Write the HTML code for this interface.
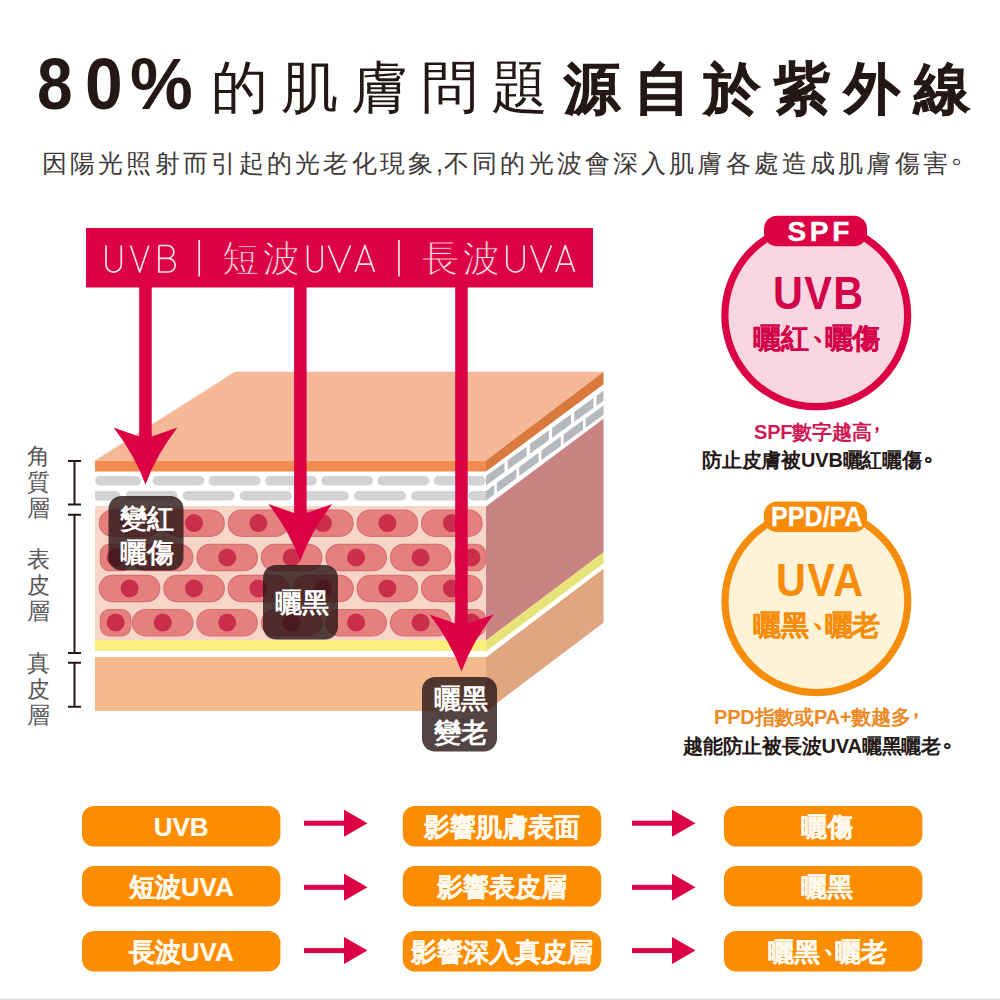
<!DOCTYPE html>
<html lang="zh-Hant"><head><meta charset="utf-8"><title>80%的肌膚問題源自於紫外線</title>
<style>
html,body{margin:0;padding:0;background:#fff}
body{width:1000px;height:1000px;position:relative;overflow:hidden;font-family:"Liberation Sans",sans-serif}
svg{position:absolute;left:0;top:0}
.t{position:absolute;white-space:nowrap;line-height:1}
.n{margin-right:-0.43em;position:relative;top:-0.345em;left:0.127em}
.d{position:relative;top:-0.466em;left:0.144em;display:inline-block;transform:scale(1.25)}
.c{position:relative;top:-0.42em;left:-0.25em}
.p{position:absolute;width:198.4px;height:40.5px;line-height:42px;text-align:center;color:#fffaf0;-webkit-text-stroke:0.2px #fffaf0;font-weight:700;font-size:26px;white-space:nowrap}
</style></head><body>
<svg width="1000" height="1000" viewBox="0 0 1000 1000">
<polygon points="95,460.5 235,371.7 603.5,371.7 486,460.5" fill="#f5b998"/>
<polygon points="486.0,460.5 603.5,371.7 603.5,622.7 486.0,711.5" fill="#fff"/>
<polygon points="486.0,460.5 603.5,371.7 603.5,384.2 486.0,471.5" fill="#d9793d"/>
<polygon points="486.0,476.0 504.5,462.6 504.5,472.1 486.0,485.5" fill="#b5b9be"/>
<polygon points="507.7,460.2 526.7,446.5 526.7,456.1 507.7,469.8" fill="#b5b9be"/>
<polygon points="529.9,444.1 548.9,430.3 548.9,440.1 529.9,453.8" fill="#b5b9be"/>
<polygon points="552.1,428.0 571.1,414.2 571.1,424.1 552.1,437.8" fill="#b5b9be"/>
<polygon points="574.3,411.9 593.3,398.1 593.3,408.1 574.3,421.8" fill="#b5b9be"/>
<polygon points="596.5,395.8 603.5,390.7 603.5,400.7 596.5,405.8" fill="#b5b9be"/>
<polygon points="486.0,491.0 494.2,485.0 494.2,494.5 486.0,500.5" fill="#b5b9be"/>
<polygon points="496.9,483.1 516.4,468.9 516.4,478.3 496.9,492.5" fill="#b5b9be"/>
<polygon points="519.1,466.9 538.6,452.7 538.6,462.1 519.1,476.3" fill="#b5b9be"/>
<polygon points="541.3,450.7 560.8,436.5 560.8,445.9 541.3,460.1" fill="#b5b9be"/>
<polygon points="563.5,434.5 583.0,420.3 583.0,429.7 563.5,443.9" fill="#b5b9be"/>
<polygon points="585.7,418.4 603.5,405.4 603.5,414.7 585.7,427.7" fill="#b5b9be"/>
<polygon points="486.0,506.5 603.5,418.7 603.5,552.2 486.0,640.5" fill="#c98282"/>
<polygon points="486.0,640.5 603.5,552.2 603.5,563.2 486.0,651.5" fill="#e7e47a"/>
<polygon points="486.0,657.5 603.5,568.7 603.5,622.7 486.0,711.5" fill="#dfa67f"/>
<rect x="95" y="460.5" width="391" height="250.5" fill="#fff"/>
<rect x="95" y="460.5" width="391" height="11" fill="#f08c50"/>
<clipPath id="ff"><rect x="95" y="460" width="391" height="252"/></clipPath>
<g clip-path="url(#ff)">
<rect x="95" y="476" width="46" height="9.5" rx="4.75" fill="#d2d3d5"/>
<rect x="152.4" y="476" width="52" height="9.5" rx="4.75" fill="#d2d3d5"/>
<rect x="208.6" y="476" width="52" height="9.5" rx="4.75" fill="#d2d3d5"/>
<rect x="264.9" y="476" width="52" height="9.5" rx="4.75" fill="#d2d3d5"/>
<rect x="321.1" y="476" width="52" height="9.5" rx="4.75" fill="#d2d3d5"/>
<rect x="377.4" y="476" width="52" height="9.5" rx="4.75" fill="#d2d3d5"/>
<rect x="433.6" y="476" width="52" height="9.5" rx="4.75" fill="#d2d3d5"/>
<rect x="68.5" y="491" width="52" height="9.5" rx="4.75" fill="#d2d3d5"/>
<rect x="125.6" y="491" width="52" height="9.5" rx="4.75" fill="#d2d3d5"/>
<rect x="182.7" y="491" width="52" height="9.5" rx="4.75" fill="#d2d3d5"/>
<rect x="239.8" y="491" width="52" height="9.5" rx="4.75" fill="#d2d3d5"/>
<rect x="296.9" y="491" width="52" height="9.5" rx="4.75" fill="#d2d3d5"/>
<rect x="354.0" y="491" width="52" height="9.5" rx="4.75" fill="#d2d3d5"/>
<rect x="411.1" y="491" width="52" height="9.5" rx="4.75" fill="#d2d3d5"/>
<rect x="468.2" y="491" width="52" height="9.5" rx="4.75" fill="#d2d3d5"/>
<rect x="95" y="506" width="391" height="134" fill="#f7d6c8"/>
<rect x="99.3" y="510.0" width="60.5" height="26.3" rx="13.15" fill="#e6807f" stroke="#d86f72" stroke-width="1.2"/>
<circle cx="129.6" cy="523.1" r="9" fill="#c92f4b"/>
<rect x="163.8" y="510.0" width="60.5" height="26.3" rx="13.15" fill="#e6807f" stroke="#d86f72" stroke-width="1.2"/>
<circle cx="194.0" cy="523.1" r="9" fill="#c92f4b"/>
<rect x="228.2" y="510.0" width="60.5" height="26.3" rx="13.15" fill="#e6807f" stroke="#d86f72" stroke-width="1.2"/>
<circle cx="258.4" cy="523.1" r="9" fill="#c92f4b"/>
<rect x="292.7" y="510.0" width="60.5" height="26.3" rx="13.15" fill="#e6807f" stroke="#d86f72" stroke-width="1.2"/>
<circle cx="322.9" cy="523.1" r="9" fill="#c92f4b"/>
<rect x="357.1" y="510.0" width="60.5" height="26.3" rx="13.15" fill="#e6807f" stroke="#d86f72" stroke-width="1.2"/>
<circle cx="387.4" cy="523.1" r="9" fill="#c92f4b"/>
<rect x="421.6" y="510.0" width="60.5" height="26.3" rx="13.15" fill="#e6807f" stroke="#d86f72" stroke-width="1.2"/>
<circle cx="451.8" cy="523.1" r="9" fill="#c92f4b"/>
<rect x="99.3" y="575.3" width="60.5" height="26.3" rx="13.15" fill="#e6807f" stroke="#d86f72" stroke-width="1.2"/>
<circle cx="129.6" cy="588.4" r="9" fill="#c92f4b"/>
<rect x="163.8" y="575.3" width="60.5" height="26.3" rx="13.15" fill="#e6807f" stroke="#d86f72" stroke-width="1.2"/>
<circle cx="194.0" cy="588.4" r="9" fill="#c92f4b"/>
<rect x="228.2" y="575.3" width="60.5" height="26.3" rx="13.15" fill="#e6807f" stroke="#d86f72" stroke-width="1.2"/>
<circle cx="258.4" cy="588.4" r="9" fill="#c92f4b"/>
<rect x="292.7" y="575.3" width="60.5" height="26.3" rx="13.15" fill="#e6807f" stroke="#d86f72" stroke-width="1.2"/>
<circle cx="322.9" cy="588.4" r="9" fill="#c92f4b"/>
<rect x="357.1" y="575.3" width="60.5" height="26.3" rx="13.15" fill="#e6807f" stroke="#d86f72" stroke-width="1.2"/>
<circle cx="387.4" cy="588.4" r="9" fill="#c92f4b"/>
<rect x="421.6" y="575.3" width="60.5" height="26.3" rx="13.15" fill="#e6807f" stroke="#d86f72" stroke-width="1.2"/>
<circle cx="451.8" cy="588.4" r="9" fill="#c92f4b"/>
<rect x="100.4" y="544.4" width="30.4" height="26.3" rx="9" fill="#e6807f" stroke="#d86f72" stroke-width="1.2"/>
<circle cx="115.6" cy="557.5" r="9" fill="#c92f4b"/>
<rect x="132.4" y="544.4" width="60.5" height="26.3" rx="13.15" fill="#e6807f" stroke="#d86f72" stroke-width="1.2"/>
<circle cx="162.7" cy="557.5" r="9" fill="#c92f4b"/>
<rect x="196.9" y="544.4" width="60.5" height="26.3" rx="13.15" fill="#e6807f" stroke="#d86f72" stroke-width="1.2"/>
<circle cx="227.2" cy="557.5" r="9" fill="#c92f4b"/>
<rect x="261.4" y="544.4" width="60.5" height="26.3" rx="13.15" fill="#e6807f" stroke="#d86f72" stroke-width="1.2"/>
<circle cx="291.6" cy="557.5" r="9" fill="#c92f4b"/>
<rect x="325.9" y="544.4" width="60.5" height="26.3" rx="13.15" fill="#e6807f" stroke="#d86f72" stroke-width="1.2"/>
<circle cx="356.1" cy="557.5" r="9" fill="#c92f4b"/>
<rect x="390.4" y="544.4" width="60.5" height="26.3" rx="13.15" fill="#e6807f" stroke="#d86f72" stroke-width="1.2"/>
<circle cx="420.6" cy="557.5" r="9" fill="#c92f4b"/>
<rect x="455.0" y="544.4" width="30.4" height="26.3" rx="9" fill="#e6807f" stroke="#d86f72" stroke-width="1.2"/>
<circle cx="471.5" cy="557.5" r="9" fill="#c92f4b"/>
<rect x="100.4" y="609.5" width="30.4" height="26.3" rx="9" fill="#e6807f" stroke="#d86f72" stroke-width="1.2"/>
<circle cx="115.6" cy="622.6" r="9" fill="#c92f4b"/>
<rect x="132.4" y="609.5" width="60.5" height="26.3" rx="13.15" fill="#e6807f" stroke="#d86f72" stroke-width="1.2"/>
<circle cx="162.7" cy="622.6" r="9" fill="#c92f4b"/>
<rect x="196.9" y="609.5" width="60.5" height="26.3" rx="13.15" fill="#e6807f" stroke="#d86f72" stroke-width="1.2"/>
<circle cx="227.2" cy="622.6" r="9" fill="#c92f4b"/>
<rect x="261.4" y="609.5" width="60.5" height="26.3" rx="13.15" fill="#e6807f" stroke="#d86f72" stroke-width="1.2"/>
<circle cx="291.6" cy="622.6" r="9" fill="#c92f4b"/>
<rect x="325.9" y="609.5" width="60.5" height="26.3" rx="13.15" fill="#e6807f" stroke="#d86f72" stroke-width="1.2"/>
<circle cx="356.1" cy="622.6" r="9" fill="#c92f4b"/>
<rect x="390.4" y="609.5" width="60.5" height="26.3" rx="13.15" fill="#e6807f" stroke="#d86f72" stroke-width="1.2"/>
<circle cx="420.6" cy="622.6" r="9" fill="#c92f4b"/>
<rect x="455.0" y="609.5" width="30.4" height="26.3" rx="9" fill="#e6807f" stroke="#d86f72" stroke-width="1.2"/>
<circle cx="471.5" cy="622.6" r="9" fill="#c92f4b"/>
</g>
<rect x="95" y="640" width="391" height="11" fill="#fbef80"/>
<rect x="95" y="657" width="391" height="54" fill="#f4b98c"/>
<rect x="86" y="228" width="507" height="59.5" fill="#dc0045"/>
<rect x="139.2" y="286" width="12.5" height="151.5" fill="#dc0045"/>
<path d="M139.2,436.5 L113.5,427.5 Q134.5,454.5 145.5,484.5 Q156.5,454.5 177.5,427.5 L151.8,436.5 Z" fill="#dc0045"/>
<rect x="294.1" y="286" width="12.5" height="228.0" fill="#dc0045"/>
<path d="M294.1,513.0 L268.3,504.0 Q289.3,531.0 300.3,561.0 Q311.3,531.0 332.3,504.0 L306.6,513.0 Z" fill="#dc0045"/>
<rect x="455.2" y="286" width="12.5" height="338.5" fill="#dc0045"/>
<path d="M455.2,623.5 L429.5,614.5 Q450.5,641.5 461.5,671.5 Q472.5,641.5 493.5,614.5 L467.8,623.5 Z" fill="#dc0045"/>
<path d="M106.0,245.5 V264.4 A7.65,7.65 0 0 0 121.3,264.4 V245.5 M130.6,245.5 L139.7,272 L148.8,245.5 M158.9,245.5 V272 H168.4 A6.7,6.7 0 0 0 168.4,258.4 H158.9 M158.9,245.5 H167.4 A6.45,6.45 0 0 1 167.4,258.4 M199.2,240 V276.4 M307.6,245.5 V264.7 A7.30,7.30 0 0 0 322.2,264.7 V245.5 M328.3,245.5 L339.4,272 L350.5,245.5 M355.3,272 L364.9,245.5 L374.4,272 M358.2,264.1 H371.5 M398.9,240 V276.4 M506.8,245.5 V263.4 A8.65,8.65 0 0 0 524.1,263.4 V245.5 M530.9,245.5 L541.1,272 L551.4,245.5 M556.1,272 L565.3,245.5 L574.5,272 M558.9,264.1 H571.7" stroke="#ffe4ec" stroke-width="1.7" fill="none" stroke-linejoin="round"/>
<rect x="108.5" y="496" width="75" height="74.5" rx="13" fill="rgba(40,21,21,0.8)"/>
<rect x="263" y="565" width="75" height="74.5" rx="13" fill="rgba(40,21,21,0.8)"/>
<rect x="422" y="677" width="75" height="74.5" rx="13" fill="rgba(40,21,21,0.8)"/>
<path d="M74.5,461 V504.4 M68,461 H81 M68,504.4 H81" stroke="#231815" stroke-width="2" fill="none"/>
<path d="M74.5,514.8 V653 M68,514.8 H81 M68,653 H81" stroke="#231815" stroke-width="2" fill="none"/>
<path d="M74.5,662.7 V706.8 M68,662.7 H81 M68,706.8 H81" stroke="#231815" stroke-width="2" fill="none"/>
<circle cx="816.25" cy="315.3" r="91.4" fill="#fad6e2" stroke="#dc0045" stroke-width="7.2"/>
<circle cx="816.4" cy="601.2" r="91.4" fill="#fef3d6" stroke="#f58c0a" stroke-width="7.2"/>
<rect x="764" y="215.7" width="103" height="30.5" rx="13" fill="#dc0045"/>
<rect x="764" y="501.5" width="103" height="30.5" rx="13" fill="#f58c0a"/>
<rect x="82" y="806" width="198.4" height="40.5" rx="12" fill="#fc8c00"/>
<rect x="402.8" y="806" width="198.4" height="40.5" rx="12" fill="#fc8c00"/>
<rect x="724" y="806" width="198.4" height="40.5" rx="12" fill="#fc8c00"/>
<rect x="304" y="820.7" width="42" height="5" fill="#dc0045"/>
<path d="M344,809.7 L367.5,823.2 L344,836.7 Z" fill="#dc0045"/>
<rect x="632" y="820.7" width="42" height="5" fill="#dc0045"/>
<path d="M672,809.7 L695.5,823.2 L672,836.7 Z" fill="#dc0045"/>
<rect x="82" y="866" width="198.4" height="40.5" rx="12" fill="#fc8c00"/>
<rect x="402.8" y="866" width="198.4" height="40.5" rx="12" fill="#fc8c00"/>
<rect x="724" y="866" width="198.4" height="40.5" rx="12" fill="#fc8c00"/>
<rect x="304" y="884.8" width="42" height="5" fill="#dc0045"/>
<path d="M344,873.8 L367.5,887.3 L344,900.8 Z" fill="#dc0045"/>
<rect x="632" y="884.8" width="42" height="5" fill="#dc0045"/>
<path d="M672,873.8 L695.5,887.3 L672,900.8 Z" fill="#dc0045"/>
<rect x="82" y="931" width="198.4" height="40.5" rx="12" fill="#fc8c00"/>
<rect x="402.8" y="931" width="198.4" height="40.5" rx="12" fill="#fc8c00"/>
<rect x="724" y="931" width="198.4" height="40.5" rx="12" fill="#fc8c00"/>
<rect x="304" y="948.1" width="42" height="5" fill="#dc0045"/>
<path d="M344,937.1 L367.5,950.6 L344,964.1 Z" fill="#dc0045"/>
<rect x="632" y="948.1" width="42" height="5" fill="#dc0045"/>
<path d="M672,937.1 L695.5,950.6 L672,964.1 Z" fill="#dc0045"/>
<rect x="0" y="998.5" width="1000" height="1.5" fill="#e2e2e2"/>
</svg>
<div class="t" style="left:37.0px;top:48.3px;font-size:72px;font-weight:700;color:#231815;letter-spacing:0px;transform:scaleX(0.89);transform-origin:0 0;">8</div>
<div class="t" style="left:85.4px;top:48.3px;font-size:72px;font-weight:700;color:#231815;letter-spacing:0px;transform:scaleX(0.94);transform-origin:0 0;">0</div>
<div class="t" style="left:130.2px;top:48.3px;font-size:72px;font-weight:700;color:#231815;letter-spacing:0px;transform:scaleX(0.98);transform-origin:0 0;">%</div>
<div class="t" style="left:211px;top:58.5px;font-size:57px;font-weight:300;color:#231815;letter-spacing:13px;">的肌膚問題</div>
<div class="t" style="left:564px;top:60.5px;font-size:56px;font-weight:700;color:#231815;letter-spacing:14px;-webkit-text-stroke:0.9px #231815;">源自於紫外線</div>
<div class="t" style="left:42px;top:151px;font-size:25px;font-weight:300;color:#3e3a39;letter-spacing:3.15px;">因陽光照射而引起的光老化現象<span style="margin:0 -2.1px 0 0">,</span>不同的光波會深入肌膚各處造成肌膚傷害<span class="d">。</span></div>
<div class="t" style="left:222px;top:240px;font-size:37px;font-weight:100;color:#ffe4ec;letter-spacing:3.5px;-webkit-text-stroke:0.9px #dc0045;">短波</div>
<div class="t" style="left:422px;top:240px;font-size:37px;font-weight:100;color:#ffe4ec;letter-spacing:3.5px;-webkit-text-stroke:0.9px #dc0045;">長波</div>
<div class="t" style="left:27px;top:443.3px;font-size:23px;font-weight:300;color:#595757;letter-spacing:0px;line-height:26px;">角<br>質<br>層</div>
<div class="t" style="left:27px;top:546.2px;font-size:23px;font-weight:300;color:#595757;letter-spacing:0px;line-height:26px;">表<br>皮<br>層</div>
<div class="t" style="left:27px;top:650.4px;font-size:23px;font-weight:300;color:#595757;letter-spacing:0px;line-height:26px;">真<br>皮<br>層</div>
<div class="t" style="left:120px;top:501.5px;font-size:26.5px;font-weight:700;color:#fff;letter-spacing:0px;line-height:34px;">變紅<br>曬傷</div>
<div class="t" style="left:275px;top:589.5px;font-size:26.5px;font-weight:700;color:#fff;letter-spacing:0px;">曬黑</div>
<div class="t" style="left:434px;top:682px;font-size:26.5px;font-weight:700;color:#fff;letter-spacing:0px;line-height:34px;">曬黑<br>變老</div>
<div class="t" style="left:787.6px;top:218.3px;font-size:28px;font-weight:700;color:#fff;letter-spacing:3.6px;-webkit-text-stroke:0.4px #fff;">SPF</div>
<div class="t" style="left:773px;top:269.5px;font-size:46px;font-weight:700;color:#d3034a;letter-spacing:1.5px;transform:scaleX(0.9);transform-origin:0 0;">UVB</div>
<div class="t" style="left:753px;top:325px;font-size:27.5px;font-weight:700;color:#d3034a;letter-spacing:-0.2px;-webkit-text-stroke:0.2px #d3034a;">曬紅<span class="n">、</span>曬傷</div>
<div class="t" style="left:771px;top:504.2px;font-size:27px;font-weight:700;color:#fff;letter-spacing:0px;transform:scaleX(0.93);transform-origin:0 0;-webkit-text-stroke:0.3px #fff;">PPD/PA</div>
<div class="t" style="left:775.5px;top:556.6px;font-size:46px;font-weight:700;color:#f58c0a;letter-spacing:1.5px;transform:scaleX(0.9);transform-origin:0 0;">UVA</div>
<div class="t" style="left:753px;top:612px;font-size:27.5px;font-weight:700;color:#f58c0a;letter-spacing:-0.2px;-webkit-text-stroke:0.2px #f58c0a;">曬黑<span class="n">、</span>曬老</div>
<div class="t" style="left:754px;top:421.5px;font-size:20px;font-weight:700;color:#cf1a55;letter-spacing:-0.2px;">SPF數字越高<span class="c">，</span></div>
<div class="t" style="left:702px;top:450px;font-size:20px;font-weight:700;color:#231815;letter-spacing:-0.2px;">防止皮膚被UVB曬紅曬傷<span class="d">。</span></div>
<div class="t" style="left:714px;top:707px;font-size:20px;font-weight:700;color:#ec8a25;letter-spacing:-0.2px;">PPD指數或PA+數越多<span class="c">，</span></div>
<div class="t" style="left:683px;top:736px;font-size:20px;font-weight:700;color:#231815;letter-spacing:-0.2px;">越能防止被長波UVA曬黑曬老<span class="d">。</span></div>
<div class="p" style="left:82px;top:806px;">UVB</div>
<div class="p" style="left:402.8px;top:806px;">影響肌膚表面</div>
<div class="p" style="left:724px;top:806px;padding-left:8px;box-sizing:border-box;">曬傷</div>
<div class="p" style="left:82px;top:866px;">短波UVA</div>
<div class="p" style="left:402.8px;top:866px;">影響表皮層</div>
<div class="p" style="left:724px;top:866px;padding-left:8px;box-sizing:border-box;">曬黑</div>
<div class="p" style="left:82px;top:931px;">長波UVA</div>
<div class="p" style="left:402.8px;top:931px;">影響深入真皮層</div>
<div class="p" style="left:724px;top:931px;padding-left:8px;box-sizing:border-box;">曬黑<span class="n">、</span>曬老</div>
</body></html>
